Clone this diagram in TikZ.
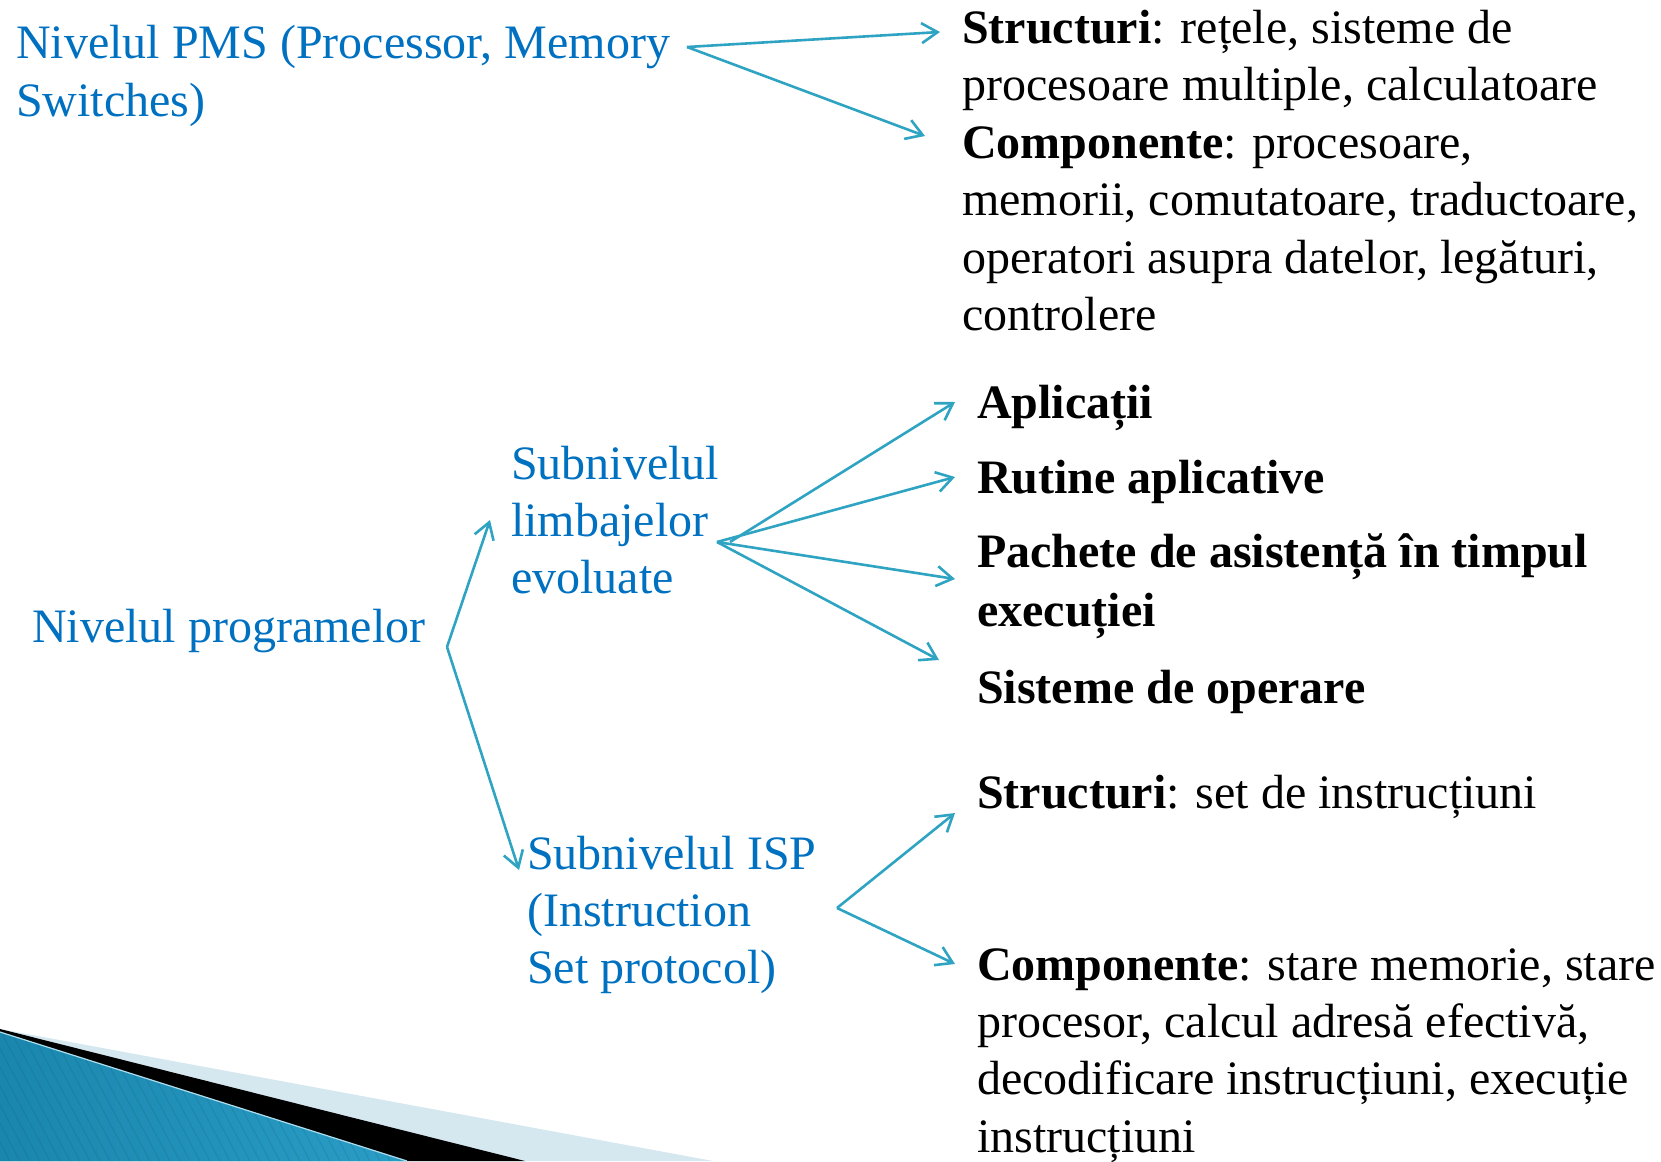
\documentclass[tikz,border=0pt]{standalone}
\usepackage{fontspec}
\setmainfont{Liberation Serif}
\usetikzlibrary{arrows.meta}
\definecolor{txtblue}{HTML}{0070C0}
\definecolor{arrteal}{HTML}{2FA3C2}
\definecolor{paleblue}{HTML}{D5E8F0}
\definecolor{bandL}{HTML}{1A86AD}
\definecolor{bandM}{HTML}{5BBDE0}
\definecolor{bandR}{HTML}{2A9DC6}
\begin{document}
\begin{tikzpicture}[x=1pt,y=-1pt,
  lbl/.style={anchor=base west, inner sep=0pt, font=\fontsize{48}{57}\selectfont},
  bluet/.style={lbl, text=txtblue},
  blackt/.style={lbl, text=black},
  conn/.style={draw=arrteal, line width=2.6pt, -{Straight Barb[length=16pt,width=20pt]}}
]
\useasboundingbox (0,0) rectangle (1661,1161);

% bottom-left decoration
\fill[paleblue] (0,1029) -- (713,1161) -- (0,1161) -- cycle;
\fill[black] (0,1029) -- (525,1161) -- (0,1161) -- cycle;
\begin{scope}
  \clip (0,1032) -- (407,1161) -- (0,1161) -- cycle;
  \shade[left color=bandL, middle color=bandM, right color=bandR] (0,1030) rectangle (407,1161);
  \foreach \k in {-80,-70,...,420}
    \draw[bandL!70!black, opacity=0.25, line width=0.8pt] (\k,1030) -- ++(70,131);
\end{scope}
\draw[bandM!50!white, line width=1.2pt] (0,1032) -- (407,1161);

% left texts
\node[bluet] (pmsA) at (16,59) {Nivelul PMS (Processor, Memory};
\node[bluet] (pmsB) at (16,116.4) {Switches)};
\node[bluet] (prog) at (32,642) {Nivelul programelor};
\node[bluet] (lim1) at (511,479) {Subnivelul};
\node[bluet] (lim2) at (511,536.4) {limbajelor};
\node[bluet] (lim3) at (511,593.8) {evoluate};
\node[bluet] (isp1) at (527,869) {Subnivelul ISP};
\node[bluet] (isp2) at (527,926) {(Instruction};
\node[bluet] (isp3) at (527,983) {Set protocol)};

% right texts, top block
\node[blackt] (s1) at (962,43.5) {\textbf{Structuri}: rețele, sisteme de};
\node[blackt] (s2) at (962,100.9) {procesoare multiple, calculatoare};
\node[blackt] (s3) at (962,158.3) {\textbf{Componente}: procesoare,};
\node[blackt] (s4) at (962,215.7) {memorii, comutatoare, traductoare,};
\node[blackt] (s5) at (962,273.1) {operatori asupra datelor, legături,};
\node[blackt] (s6) at (962,330.5) {controlere};

% right texts, middle block
\node[blackt] (apl) at (977,418) {\textbf{Aplicații}};
\node[blackt] (rut) at (977,493) {\textbf{Rutine aplicative}};
\node[blackt] (pac1) at (977,567) {\textbf{Pachete de asistență în timpul}};
\node[blackt] (pac2) at (977,626) {\textbf{execuției}};
\node[blackt] (sis) at (977,703) {\textbf{Sisteme de operare}};

% right texts, bottom block
\node[blackt] (str2) at (977,808) {\textbf{Structuri}: set de instrucțiuni};
\node[blackt] (comp1) at (977,980) {\textbf{Componente}: stare memorie, stare};
\node[blackt] (comp2) at (977,1037.4) {procesor, calcul adresă efectivă,};
\node[blackt] (comp3) at (977,1094.8) {decodificare instrucțiuni, execuție};
\node[blackt] (comp4) at (977,1152.2) {instrucțiuni};

% connector points
\coordinate (vPMS) at (687,47);
\coordinate (tS) at (940,32);
\coordinate (tC) at (925,136);
\coordinate (vProg) at (447,647);
\coordinate (tLim) at (490,520);
\coordinate (tIsp) at (519,870);
\coordinate (vLim) at (717,542);
\coordinate (vLimB) at (730,542);
\coordinate (tApl) at (955,402);
\coordinate (tRut) at (955,477);
\coordinate (tPac) at (955,579);
\coordinate (tSis) at (939,660);
\coordinate (vIsp) at (837,908);
\coordinate (tStr) at (955,813);
\coordinate (tComp) at (955,964);

% connectors
\draw[conn] (vPMS) -- (tS);
\draw[conn] (vPMS) -- (tC);
\draw[conn] (vProg) -- (tLim);
\draw[conn] (vProg) -- (tIsp);
\draw[conn] (vLimB) -- (tApl);
\draw[conn] (vLim) -- (tRut);
\draw[conn] (vLim) -- (tPac);
\draw[conn] (vLim) -- (tSis);
\draw[conn] (vIsp) -- (tStr);
\draw[conn] (vIsp) -- (tComp);
\end{tikzpicture}
\end{document}
